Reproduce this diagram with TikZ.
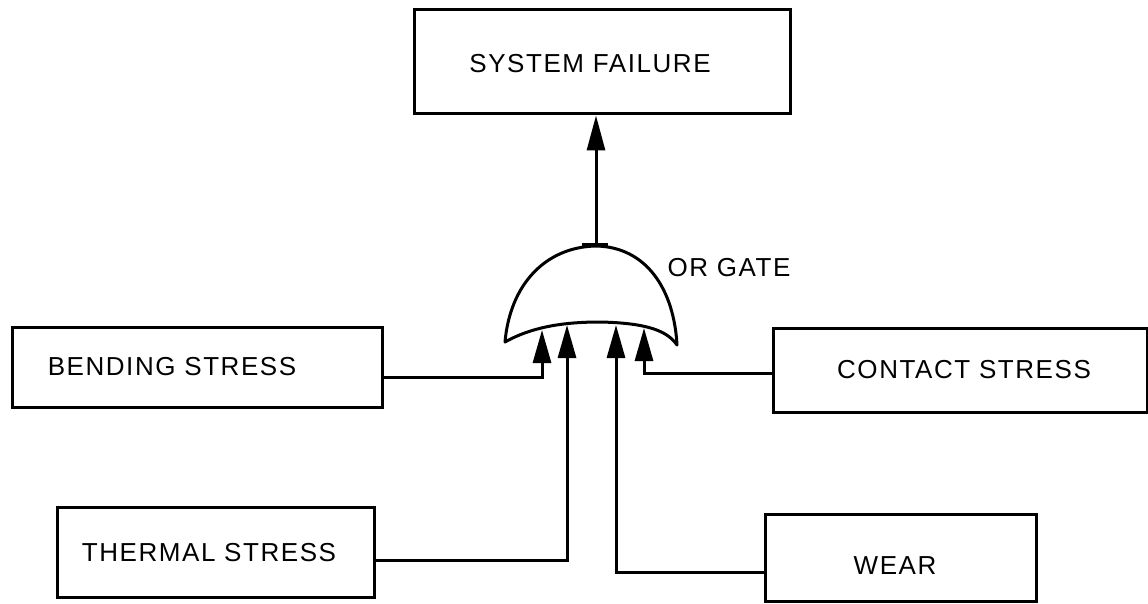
\documentclass[tikz,border=0pt]{standalone}
\usepackage{fontspec}
\setmainfont{Liberation Sans}[LetterSpace=6]
\usetikzlibrary{arrows.meta}
\begin{document}
\begin{tikzpicture}[x=1pt,y=-1pt,
  box/.style={draw,line width=3pt,inner sep=0pt},
  caption/.style={font=\fontsize{26}{30}\selectfont},
  feed/.style={line width=3pt,-{Triangle[length=33pt,width=18pt]}},
  outarrow/.style={line width=3pt,-{Triangle[length=35pt,width=18pt]}},
]
\useasboundingbox (0,0) rectangle (1148,604);

% event boxes
\node[box,minimum width=376pt,minimum height=104pt,
      label={[caption,xshift=-12pt,yshift=-2pt]center:SYSTEM FAILURE}] (sys) at (602,62) {};
\node[box,minimum width=370pt,minimum height=80pt,
      label={[caption,xshift=-25pt]center:BENDING STRESS}] (bend) at (197,367) {};
\node[box,minimum width=374pt,minimum height=84pt,
      label={[caption,xshift=4pt]center:CONTACT STRESS}] (contact) at (960,370) {};
\node[box,minimum width=317pt,minimum height=90pt,
      label={[caption,xshift=-7pt,yshift=-1pt]center:THERMAL STRESS}] (thermal) at (216,552) {};
\node[box,minimum width=271pt,minimum height=87pt,
      label={[caption,xshift=-6pt,yshift=-8pt]center:WEAR}] (wear) at (901,558) {};

% OR gate symbol
\draw[line width=3pt,line join=round]
  (505,342) .. controls (510,285) and (545,247) .. (596,246)
  .. controls (647,247) and (674,290) .. (677,345)
  .. controls (668,332) and (650,323) .. (600,322)
  .. controls (560,322) and (530,328) .. (505,342) -- cycle;
\draw[line width=4.5pt] (582,245) -- (608,245);
\node[caption,anchor=west] (orlabel) at (664,268) {OR GATE};

\coordinate (gout) at (596,245);
\coordinate (in1) at (542,330);
\coordinate (in2) at (567,325);
\coordinate (in3) at (616,325);
\coordinate (in4) at (644,328);

% connectors
\draw[outarrow] (gout) -- (gout |- sys.south);
\draw[feed] ([yshift=-10pt]bend.east) -| (in1);
\draw[feed] ([yshift=-8pt]thermal.east) -| (in2);
\draw[feed] ([yshift=-14pt]wear.west) -| (in3);
\draw[feed] ([yshift=-3pt]contact.west) -| (in4);
\end{tikzpicture}
\end{document}
